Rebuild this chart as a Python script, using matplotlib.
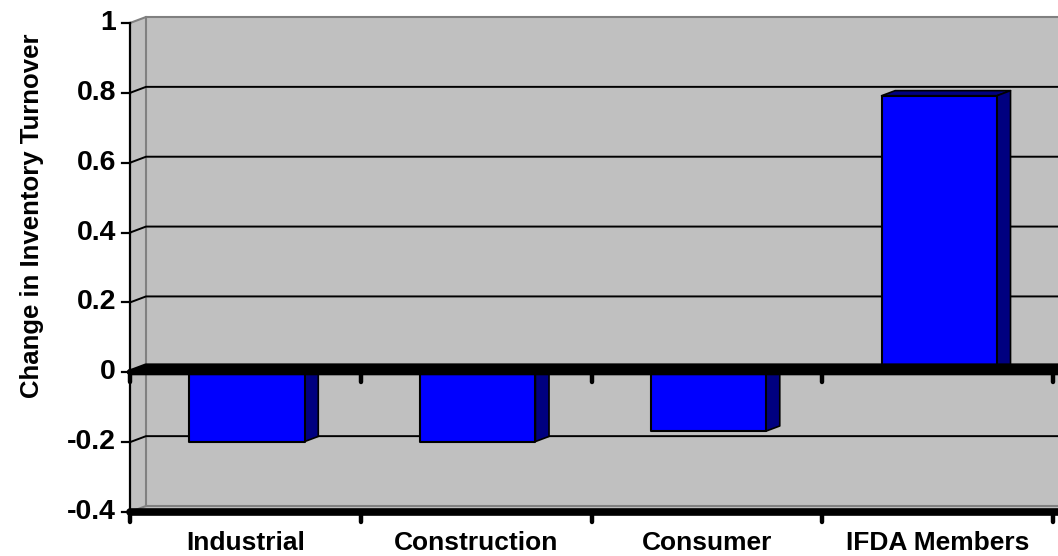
import matplotlib.pyplot as plt
from matplotlib.patches import Polygon
from matplotlib.transforms import IdentityTransform

plt.rcParams['font.family'] = ['Liberation Sans', 'DejaVu Sans']

# 数据
categories = ['Industrial', 'Construction', 'Consumer', 'IFDA Members']
values = [-0.2, -0.2, -0.17, 0.79]
yticks = [-0.4, -0.2, 0, 0.2, 0.4, 0.6, 0.8, 1]
ylabel = 'Change in Inventory Turnover'

W, H = 1058, 556
fig = plt.figure(figsize=(W / 100, H / 100), dpi=100)
ax = fig.add_axes([130 / W, 44 / H, 923 / W, 489 / H])
ax.set_xlim(0, len(categories))
ax.set_ylim(-0.4, 1)
ax.axis('off')

# 3D纵深偏移(像素)
DX, DY = 16, 6
XR = len(categories) + 0.1
ID = IdentityTransform()


def pt(x, y, d=0.0):
    X, Y = ax.transData.transform((x, y))
    return (X + d * DX, Y + d * DY)


def poly(pts, fc, ec='none', lw=0, z=1, **kw):
    p = Polygon(pts, closed=True, facecolor=fc, edgecolor=ec, linewidth=lw,
                transform=ID, zorder=z, clip_on=False, **kw)
    fig.patches.append(p)
    p.set_figure(fig)


def line(pts, c='black', lw=1.2, z=2, **kw):
    xs = [p[0] for p in pts]
    ys = [p[1] for p in pts]
    fig.lines.append(plt.Line2D(xs, ys, color=c, linewidth=lw, transform=ID,
                                zorder=z, **kw))


grey = '#C0C0C0'
edge = '#808080'
ymin, ymax = -0.4, 1

# 背景墙、侧墙、底面
poly([pt(0, ymin, 1), pt(XR, ymin, 1), pt(XR, ymax, 1), pt(0, ymax, 1)], grey, z=1)
poly([pt(0, ymin, 0), pt(0, ymin, 1), pt(0, ymax, 1), pt(0, ymax, 0)], grey, z=1)
poly([pt(0, ymin, 0), pt(XR, ymin, 0), pt(XR, ymin, 1), pt(0, ymin, 1)], grey, z=1)
line([pt(0, ymax, 0), pt(0, ymax, 1), pt(XR, ymax, 1)], c=edge, lw=1.5, z=2)
line([pt(0, ymin, 1), pt(0, ymax, 1)], c=edge, lw=1.5, z=2)
line([pt(0, ymin, 0), pt(0, ymin, 1), pt(XR, ymin, 1)], c=edge, lw=1.5, z=2)

# 网格线
for v in yticks:
    if v in (ymin, 0, ymax):
        continue
    line([pt(0, v, 0), pt(0, v, 1), pt(XR, v, 1)], c='black', lw=1.4, z=2)

# 柱子
bw = 0.5
d0, d1 = 0.1, 0.95
for i, v in enumerate(values):
    x0 = i + 0.5 - bw / 2
    x1 = i + 0.5 + bw / 2
    top = max(v, 0)
    bot = min(v, 0)
    # 顶面
    poly([pt(x0, top, d0), pt(x1, top, d0), pt(x1, top, d1), pt(x0, top, d1)],
         '#000080', 'black', 1.2, z=3, joinstyle='round')
    # 侧面
    poly([pt(x1, bot, d0), pt(x1, bot, d1), pt(x1, top, d1), pt(x1, top, d0)],
         '#000080', 'black', 1.2, z=3, joinstyle='round')
    # 正面
    poly([pt(x0, bot, d0), pt(x1, bot, d0), pt(x1, top, d0), pt(x0, top, d0)],
         '#0000FF', 'black', 1.5, z=4, joinstyle='round')

# 零线(粗)
poly([pt(0, 0, 0), pt(XR, 0, 0), pt(XR, 0, 1), pt(0, 0, 1)], 'black', 'black', 4.2,
     z=5, joinstyle='round')
line([pt(0, 0, 0), pt(XR, 0, 0)], lw=4.5, z=5, solid_capstyle='round')

# 坐标轴
line([pt(0, ymin, 0), pt(0, ymax, 0)], lw=1.6, z=6)
line([pt(0, ymin, 0), pt(XR, ymin, 0)], lw=5.5, z=6, solid_capstyle='round')
for v in yticks:
    X, Y = pt(0, v, 0)
    line([(X - 8, Y), (X, Y)], lw=1.6, z=6)
    fig.text(X - 14, Y, '%g' % v, transform=ID, ha='right', va='center',
             fontsize=20.5, fontweight='bold')
for i in range(len(categories) + 1):
    X, Y = pt(i, 0, 0)
    line([(X, Y), (X, Y - 10)], lw=3.2, z=6, solid_capstyle='round')
    X, Y = pt(i, ymin, 0)
    line([(X, Y), (X, Y - 10)], lw=3.2, z=6, solid_capstyle='round')

for i, c in enumerate(categories):
    X, Y = pt(i + 0.5, ymin, 0)
    fig.text(X, 6, c, transform=ID, ha='center', va='baseline',
             fontsize=19, fontweight='bold')

fig.text(32, H - 216, ylabel, transform=ID, rotation=90, ha='center', va='center',
         fontsize=18.5, fontweight='bold')

fig.savefig('out.png', dpi=100)
